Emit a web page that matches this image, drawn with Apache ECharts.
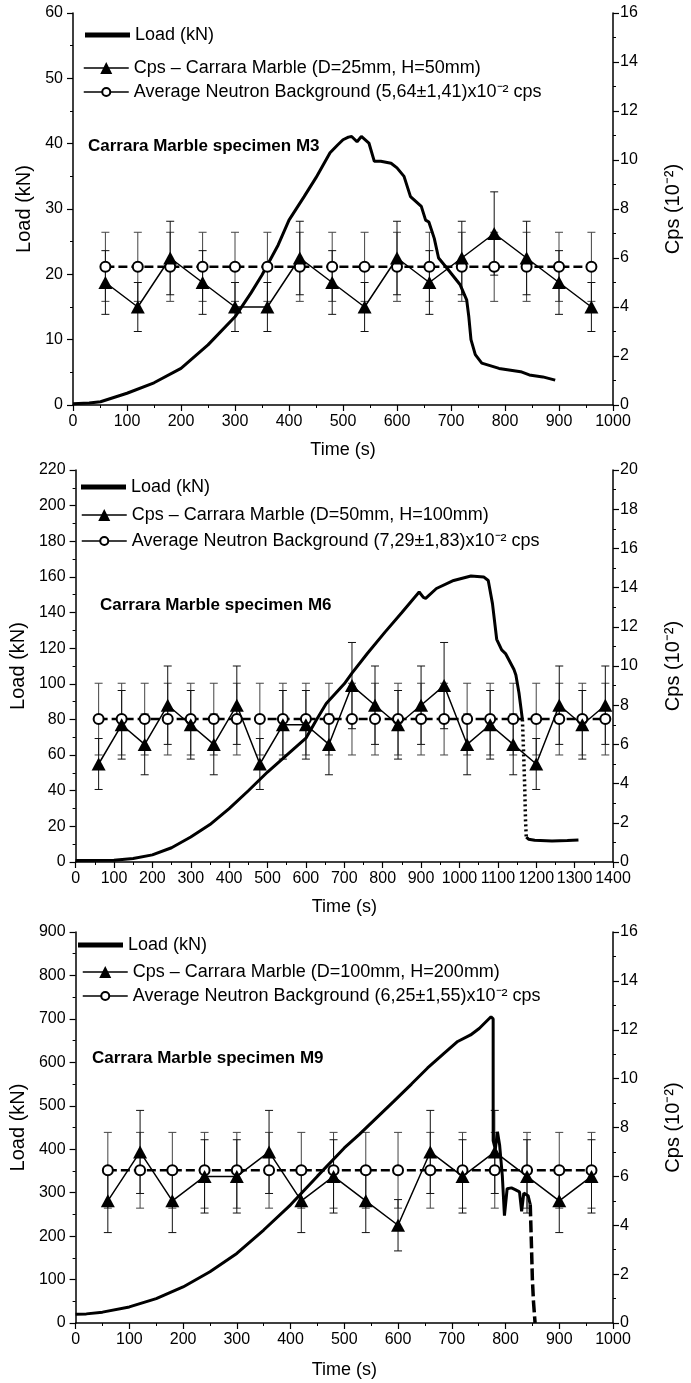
<!DOCTYPE html>
<html>
<head>
<meta charset="utf-8">
<script src="https://cdn.jsdelivr.net/npm/echarts@6/dist/echarts.min.js"></script>
<style>
  html, body { margin: 0; padding: 0; background: #fff; }
  #chart { width: 691px; height: 1383px; }
</style>
</head>
<body>
<div id="chart"></div>
<script>
// ---------- data ----------
// panel 1 : specimen M3
var cpsTime1 = [60, 120, 180, 240, 300, 360, 420, 480, 540, 600, 660, 720, 780, 840, 900, 960];
var cps1 = [5, 4, 6, 5, 4, 4, 6, 5, 4, 6, 5, 6, 7, 6, 5, 4];
var cpsErr1 = [1.3, 1.0, 1.5, 1.3, 1.0, 1.0, 1.5, 1.3, 1.0, 1.5, 1.3, 1.5, 1.7, 1.5, 1.3, 1.0];
var bgMean1 = 5.64, bgErr1 = 1.41;
var loadTime1 = [0, 30, 51, 100, 150, 200, 250, 300, 330, 350, 380, 400, 428, 450, 476, 490, 500, 510, 516, 526, 534, 548, 558, 570, 589, 600, 613, 625, 645, 653, 659, 669, 677, 693, 717, 729, 733, 737, 745, 757, 789, 829, 845, 870, 893];
var load1 = [0.2, 0.3, 0.5, 1.8, 3.4, 5.6, 9.2, 13.5, 17.2, 19.9, 24.5, 28.3, 31.9, 34.8, 38.6, 39.8, 40.6, 41.0, 41.1, 40.3, 41.1, 40.1, 37.3, 37.3, 37.0, 36.3, 35.0, 31.9, 30.4, 28.3, 28.0, 25.5, 22.5, 20.9, 18.4, 16.1, 13.5, 10.0, 7.7, 6.4, 5.6, 5.1, 4.6, 4.3, 3.8];

// panel 2 : specimen M6
var cpsTime2 = [60, 120, 180, 240, 300, 360, 420, 480, 540, 600, 660, 720, 780, 840, 900, 960, 1020, 1080, 1140, 1200, 1260, 1320, 1380];
var cps2 = [5, 7, 6, 8, 7, 6, 8, 5, 7, 7, 6, 9, 8, 7, 8, 9, 6, 7, 6, 5, 8, 7, 8];
var cpsErr2 = [1.3, 1.75, 1.55, 2.0, 1.75, 1.55, 2.0, 1.3, 1.75, 1.75, 1.55, 2.2, 2.0, 1.75, 2.0, 2.2, 1.55, 1.75, 1.55, 1.3, 2.0, 1.75, 2.0];
var bgMean2 = 7.29, bgErr2 = 1.83;
var loadTime2 = [0, 100, 150, 200, 250, 300, 350, 400, 450, 500, 550, 600, 628, 653, 700, 720, 760, 806, 850, 895, 900, 906, 912, 940, 985, 1030, 1063, 1075, 1080, 1086, 1097, 1110, 1120, 1142, 1147, 1155, 1164];
var load2 = [0.8, 1, 2, 4, 8, 14, 21, 30, 40, 50.5, 60, 69.5, 80, 89, 100, 106, 117, 129, 140, 151.5, 152, 148.5, 148, 153.5, 158, 160.5, 160, 158, 157, 145, 125, 119, 117, 108, 105, 95, 80];
var dropTime2 = [1164, 1167, 1170, 1172, 1174];
var drop2 = [80, 62, 42, 24, 14];
var tailTime2 = [1174, 1180, 1196, 1241, 1281, 1310];
var tail2 = [14, 12.8, 12.2, 11.8, 12.1, 12.4];

// panel 3 : specimen M9
var cpsTime3 = [60, 120, 180, 240, 300, 360, 420, 480, 540, 600, 660, 720, 780, 840, 900, 960];
var cps3 = [5, 7, 5, 6, 6, 7, 5, 6, 5, 4, 7, 6, 7, 6, 5, 6];
var cpsErr3 = [1.3, 1.7, 1.3, 1.5, 1.5, 1.7, 1.3, 1.5, 1.3, 1.05, 1.7, 1.5, 1.7, 1.5, 1.3, 1.5];
var bgMean3 = 6.25, bgErr3 = 1.55;
var loadTime3 = [0, 20, 50, 100, 150, 200, 250, 300, 350, 400, 450, 500, 528, 560, 592, 625, 655, 685, 711, 735, 751, 773, 777, 777, 781, 785, 789, 794, 798, 803, 811, 818, 826, 830, 834, 842, 846];
var load3 = [20, 21, 25, 37, 56, 83, 118, 160, 214, 272, 338, 403, 434, 472, 510, 550, 587, 620, 648, 663, 678, 705, 700, 420, 400, 440, 410, 340, 247, 309, 311, 307, 302, 257, 299, 293, 273];
var dropTime3 = [846, 848, 850, 852, 855];
var drop3 = [273, 190, 100, 50, 0];

// ---------- helpers ----------
var FONT = 'Liberation Sans, Arial, sans-serif';

function pairs(xs, ys) {
  return xs.map(function (x, i) { return [x, ys[i]]; });
}
function flat(xs, v) {
  return xs.map(function (x) { return [x, v]; });
}
function bars(xs, ys, errs) {
  return xs.map(function (x, i) { return [x, ys[i] - errs[i], ys[i] + errs[i]]; });
}
function errorBars(color) {
  return function (params, api) {
    var t = api.value(0);
    var lo = api.coord([t, api.value(1)]);
    var hi = api.coord([t, api.value(2)]);
    var st = { stroke: color, lineWidth: 1 };
    return {
      type: 'group',
      children: [
        { type: 'line', shape: { x1: lo[0], y1: lo[1], x2: hi[0], y2: hi[1] }, style: st },
        { type: 'line', shape: { x1: lo[0] - 4, y1: lo[1], x2: lo[0] + 4, y2: lo[1] }, style: st },
        { type: 'line', shape: { x1: hi[0] - 4, y1: hi[1], x2: hi[0] + 4, y2: hi[1] }, style: st }
      ]
    };
  };
}
function plain(v) { return String(v); }

var panels = [
  {
    grid: { left: 73, right: 69, top: 13, height: 392 },
    xMax: 1000, yMax: 60, yInt: 10, rMax: 16, nameGapX: 36,
    title: 'Carrara Marble specimen M3', titlePos: [88, 138],
    cpsName: 'Cps \u2013 Carrara Marble (D=25mm, H=50mm)',
    bgName: 'Average Neutron Background (5,64\u00b11,41)x10\u207b\u00b2 cps',
    rows: [[85, 35], [83, 68], [83, 92]],
    cpsTime: cpsTime1, cps: cps1, cpsErr: cpsErr1, bgMean: bgMean1, bgErr: bgErr1,
    load: [pairs(loadTime1, load1)], drop: null
  },
  {
    grid: { left: 69, right: 69, top: 470, height: 392 },
    xMax: 1400, yMax: 220, yInt: 20, rMax: 20, nameGapX: 36,
    title: 'Carrara Marble specimen M6', titlePos: [100, 597],
    cpsName: 'Cps \u2013 Carrara Marble (D=50mm, H=100mm)',
    bgName: 'Average Neutron Background (7,29\u00b11,83)x10\u207b\u00b2 cps',
    rows: [[81, 487], [81, 515], [81, 541]],
    cpsTime: cpsTime2, cps: cps2, cpsErr: cpsErr2, bgMean: bgMean2, bgErr: bgErr2,
    load: [pairs(loadTime2, load2), pairs(tailTime2, tail2)], drop: pairs(dropTime2, drop2), dropType: [2, 3]
  },
  {
    grid: { left: 69, right: 68, top: 932, height: 391 },
    xMax: 1000, yMax: 900, yInt: 100, rMax: 16, nameGapX: 38,
    title: 'Carrara Marble specimen M9', titlePos: [92, 1050],
    cpsName: 'Cps \u2013 Carrara Marble (D=100mm, H=200mm)',
    bgName: 'Average Neutron Background (6,25\u00b11,55)x10\u207b\u00b2 cps',
    rows: [[78, 945], [82, 972], [82, 996]],
    cpsTime: cpsTime3, cps: cps3, cpsErr: cpsErr3, bgMean: bgMean3, bgErr: bgErr3,
    load: [pairs(loadTime3, load3)], drop: pairs(dropTime3, drop3), dropType: [12, 4]
  }
];

var option = {
  animation: false,
  backgroundColor: '#fff',
  textStyle: { fontFamily: FONT, color: '#000' },
  grid: [], xAxis: [], yAxis: [], series: [], legend: [], title: []
};

var axisLine = { show: true, onZero: false, lineStyle: { color: '#000', width: 1.5 } };
var axisTick = { show: true, length: 6, lineStyle: { color: '#000', width: 1.2 } };
var minorTick = { show: true, splitNumber: 2, length: 3, lineStyle: { color: '#000', width: 1 } };
var tickLabel = function (margin) {
  return { fontSize: 16, color: '#000', margin: margin, formatter: plain,
           hideOverlap: false, showMinLabel: true, showMaxLabel: true };
};

panels.forEach(function (p, i) {
  option.grid.push(p.grid);
  option.xAxis.push({
    type: 'value', gridIndex: i, min: 0, max: p.xMax, interval: 100,
    name: 'Time (s)', nameLocation: 'middle', nameGap: p.nameGapX,
    nameTextStyle: { fontSize: 18, color: '#000' },
    axisLine: axisLine, axisTick: axisTick, minorTick: minorTick,
    splitLine: { show: false },
    axisLabel: tickLabel(9)
  });
  option.yAxis.push({
    type: 'value', gridIndex: i, min: 0, max: p.yMax, interval: p.yInt, position: 'left',
    name: 'Load (kN)', nameLocation: 'middle', nameGap: 36,
    nameTextStyle: { fontSize: 20, color: '#000' },
    axisLine: axisLine, axisTick: axisTick, minorTick: minorTick,
    splitLine: { show: false },
    axisLabel: tickLabel(10)
  });
  option.yAxis.push({
    type: 'value', gridIndex: i, min: 0, max: p.rMax, interval: 2, position: 'right',
    name: 'Cps (10\u207b\u00b2)', nameLocation: 'middle', nameGap: 50,
    nameTextStyle: { fontSize: 20, color: '#000' },
    axisLine: axisLine, axisTick: axisTick, minorTick: minorTick,
    splitLine: { show: false },
    axisLabel: tickLabel(7)
  });

  var yl = i * 2, yr = i * 2 + 1;

  // error bars
  option.series.push({
    type: 'custom', xAxisIndex: i, yAxisIndex: yr, z: 1,
    renderItem: errorBars('#444'), encode: { x: 0, y: [1, 2] },
    data: bars(p.cpsTime, p.cpsTime.map(function () { return p.bgMean; }), p.cpsTime.map(function () { return p.bgErr; }))
  });
  option.series.push({
    type: 'custom', xAxisIndex: i, yAxisIndex: yr, z: 1,
    renderItem: errorBars('#111'), encode: { x: 0, y: [1, 2] },
    data: bars(p.cpsTime, p.cps, p.cpsErr)
  });

  // load curve(s)
  p.load.forEach(function (seg) {
    option.series.push({
      type: 'line', name: 'Load (kN)', xAxisIndex: i, yAxisIndex: yl, z: 2,
      symbol: 'none', data: seg,
      lineStyle: { color: '#000', width: 3 }, itemStyle: { color: '#000' }
    });
  });
  if (p.drop) {
    option.series.push({
      type: 'line', name: 'Load (kN)', xAxisIndex: i, yAxisIndex: yl, z: 2,
      symbol: 'none', data: p.drop,
      lineStyle: { color: '#000', width: 3.5, type: p.dropType }, itemStyle: { color: '#000' }
    });
  }

  // background average
  option.series.push({
    type: 'line', name: p.bgName, xAxisIndex: i, yAxisIndex: yr, z: 3,
    data: flat(p.cpsTime, p.bgMean),
    symbol: 'emptyCircle', symbolSize: 10,
    lineStyle: { color: '#000', width: 2.5, type: [9, 4] },
    itemStyle: { color: '#000', borderWidth: 1 }
  });
  // cps
  option.series.push({
    type: 'line', name: p.cpsName, xAxisIndex: i, yAxisIndex: yr, z: 4,
    data: pairs(p.cpsTime, p.cps),
    symbol: 'triangle', symbolSize: [14, 13],
    lineStyle: { color: '#000', width: 1.5 },
    itemStyle: { color: '#000' }
  });

  // legend rows
  var rowDefs = [
    { item: { name: 'Load (kN)', icon: 'rect' }, h: 5, line: { width: 5, type: 'solid' } },
    { item: { name: p.cpsName }, h: 15, line: { width: 1.5, type: 'solid' } },
    { item: { name: p.bgName }, h: 10, line: { width: 1.5, type: 'solid' } }
  ];
  rowDefs.forEach(function (r, k) {
    option.legend.push({
      data: [r.item], left: p.rows[k][0], top: p.rows[k][1] - 9,
      padding: 0, itemWidth: 45, itemHeight: r.h, selectedMode: false,
      lineStyle: r.line,
      textStyle: { fontSize: 18, color: '#000', fontFamily: FONT, lineHeight: 18 }
    });
  });

  option.title.push({
    text: p.title, left: p.titlePos[0], top: p.titlePos[1], padding: 0,
    textStyle: { fontSize: 17, fontWeight: 'bold', color: '#000', fontFamily: FONT }
  });
});

var chart = echarts.init(document.getElementById('chart'), null, { renderer: 'canvas' });
chart.setOption(option);
</script>
</body>
</html>
